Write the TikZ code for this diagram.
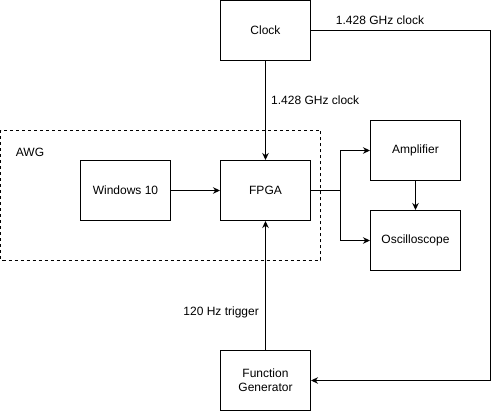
\documentclass[tikz,border=0pt]{standalone}
\usepackage{fontspec}
\setmainfont{Liberation Sans}
\usetikzlibrary{arrows.meta,positioning}
\tikzset{
  blk/.style={draw,line width=1pt,minimum width=90pt,minimum height=60pt,inner sep=0pt,align=center,font=\fontsize{12}{14}\selectfont},
  lbl/.style={font=\fontsize{12}{14}\selectfont,inner sep=0pt},
  arr/.style={-{Stealth[length=7pt,width=6.5pt]},line width=1pt},
}
\begin{document}
\begin{tikzpicture}[x=1pt,y=-1pt]
\useasboundingbox (0,0) rectangle (499,411);
\draw[line width=1pt,dash pattern=on 3pt off 3pt] (0.5,130.5) rectangle (320.5,260.5);
\node[lbl] (awg) at (30,152) {AWG};

\node[blk] (clk) at (265.5,30.5) {Clock};
\node[blk] (win) at (125.5,190.5) {Windows 10};
\node[blk] (fpga) at (265.5,190.5) {FPGA};
\node[blk] (amp) at (415.5,150.5) {Amplifier};
\node[blk] (osc) at (415.5,240.5) {Oscilloscope};
\node[blk] (fgen) at (265.5,380.5) {Function\\Generator};

% clock lines
\draw[arr] (clk) -- (fpga);
\node[lbl,anchor=west] (c1) at (271,100) {1.428 GHz clock};
\coordinate (ne) at (490.5,30.5);
\coordinate (se) at (490.5,380.5);
\draw[arr] (clk.east) -- (ne) -- (se) -- (fgen.east);
\node[lbl] (c2) at (380,20) {1.428 GHz clock};

\draw[arr] (win) -- (fpga);

% fpga outputs
\coordinate (br) at (340.5,190.5);
\draw[line width=1pt] (fpga.east) -- (br);
\draw[arr] (br) |- (amp.west);
\draw[arr] (br) |- (osc.west);
\draw[arr] (amp) -- (osc);

% trigger
\draw[arr] (fgen) -- (fpga);
\node[lbl,anchor=east] (trg) at (259,312) {120 Hz trigger};
\end{tikzpicture}
\end{document}
